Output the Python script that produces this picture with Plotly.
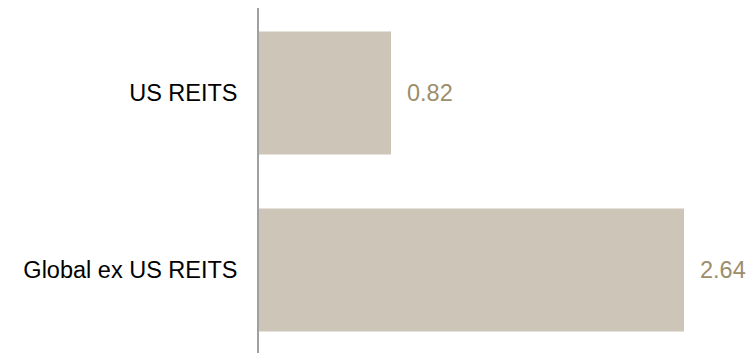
import plotly.graph_objects as go

categories = ["US REITS", "Global ex US REITS"]
values = [0.82, 2.64]

bar_color = "#ccc5b8"
label_color = "#9c8d6b"
font_family = "Liberation Sans, Arial, sans-serif"

fig = go.Figure(
    go.Bar(
        x=values,
        y=categories,
        orientation="h",
        marker=dict(color=bar_color, line=dict(width=0)),
        width=0.695,
        hoverinfo="skip",
    )
)

# value labels just past the end of each bar
for cat, val in zip(categories, values):
    fig.add_annotation(
        x=val, y=cat, text=f"{val:.2f}", showarrow=False,
        xanchor="left", yanchor="middle", xshift=14,
        font=dict(family=font_family, size=23.5, color=label_color),
    )

fig.update_layout(
    width=749, height=355,
    margin=dict(l=259, r=0, t=8, b=2),
    plot_bgcolor="white", paper_bgcolor="white",
    showlegend=False,
    font=dict(family=font_family, size=23.5, color="#000000"),
    xaxis=dict(range=[0, 490 / 161], visible=False, showgrid=False, zeroline=False),
    yaxis=dict(
        type="category", autorange=False, range=[1.469, -0.48],
        showline=True, linecolor="#a0a0a0", linewidth=1.5,
        showgrid=False, zeroline=False, ticks="", ticklen=0,
        ticklabelstandoff=15,
    ),
)

fig.write_html("out.html")
